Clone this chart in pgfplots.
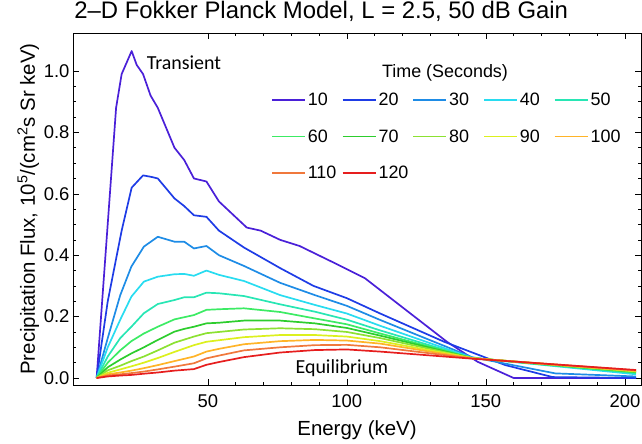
\documentclass[border=0pt]{standalone}
\usepackage{pgfplots}
\pgfplotsset{compat=1.18}
\usepackage{fontspec}
\setmainfont{Liberation Sans}
\newfontfamily\calibri{Carlito}
\usetikzlibrary{calc}
\definecolor{c10}{RGB}{74,32,216}
\definecolor{c20}{RGB}{30,60,230}
\definecolor{c30}{RGB}{30,140,230}
\definecolor{c40}{RGB}{40,220,240}
\definecolor{c50}{RGB}{40,230,180}
\definecolor{c60}{RGB}{60,235,100}
\definecolor{c70}{RGB}{45,205,45}
\definecolor{c80}{RGB}{140,225,50}
\definecolor{c90}{RGB}{220,240,30}
\definecolor{c100}{RGB}{255,180,40}
\definecolor{c110}{RGB}{240,120,60}
\definecolor{c120}{RGB}{230,30,30}
\begin{document}
\begin{tikzpicture}
\begin{axis}[
  scale only axis, width=568bp, height=352bp,
  xmin=1.5, xmax=205.8, ymin=-0.0228, ymax=1.1238,
  xtick={50,100,150,200}, minor x tick num=4,
  ytick={0,0.2,0.4,0.6,0.8,1.0}, minor y tick num=3,
  major tick length=6bp, minor tick length=3bp,
  tick style={black, line width=0.6bp},
  axis line style={black, line width=0.8bp},
  /pgf/number format/assume math mode=true,
  yticklabel style={/pgf/number format/.cd, fixed, fixed zerofill, precision=1},
  ticklabel style={font=\fontsize{18.5}{20}\selectfont},
  xticklabel style={yshift=-6bp},
  label style={font=\fontsize{20.5}{22}\selectfont},
  xlabel={Energy (keV)},
  ylabel={Precipitation Flux, 10\textsuperscript{5}/(cm\textsuperscript{2}s Sr keV)},
  xlabel style={yshift=-6bp},
  ylabel style={yshift=-2bp},
  title={2\textendash D Fokker Planck Model, L = 2.5, 50 dB Gain},
  title style={font=\fontsize{24}{26}\selectfont, at={(0.437,1)}, anchor=south, yshift=2bp},
  every axis plot/.append style={line width=1.7bp, line join=round},
  legend columns=5,
  legend cell align=left,
  legend image code/.code={\draw[#1] (0bp,0bp) -- (23bp,0bp); \path (23bp,0bp) -- (33bp,0bp);},
  legend style={draw=none, fill=none, inner xsep=0pt, inner ysep=0pt,
    font=\fontsize{18}{20}\selectfont,
    at={(axis cs:72.7,0.936)}, anchor=north west,
    row sep=18.7bp,
    /tikz/every even column/.append style={column sep=2bp}},
]
\addplot[c10] coordinates {(10,0) (17,0.88) (19,0.99) (22.6,1.065) (24.4,1.02) (26.7,0.99) (29.4,0.92) (32,0.88) (38,0.75) (41.5,0.71) (45,0.65) (49.5,0.64) (54,0.575) (64,0.49) (69,0.48) (76,0.45) (83,0.43) (95,0.377) (106.5,0.325) (136,0.118) (147,0.053) (160,0) (204,0)};
\addlegendentry{\makebox[30bp][l]{10}}
\addplot[c20] coordinates {(10,0) (14,0.25) (19,0.48) (22.6,0.62) (26.7,0.66) (29.7,0.655) (32,0.65) (38,0.585) (41.5,0.56) (45,0.53) (49.5,0.525) (54,0.48) (63,0.425) (76,0.358) (88,0.30) (100,0.26) (112,0.21) (135,0.118) (157,0.042) (174,0.003) (204,0)};
\addlegendentry{\makebox[30bp][l]{20}}
\addplot[c30] coordinates {(10,0) (14,0.13) (18.5,0.27) (22.5,0.363) (27,0.428) (32,0.46) (38,0.444) (41.5,0.444) (45,0.422) (49.5,0.43) (54,0.40) (63,0.365) (76,0.31) (88.5,0.27) (100,0.235) (112,0.189) (145,0.068) (175,0.015) (204,0.005)};
\addlegendentry{\makebox[30bp][l]{30}}
\addplot[c40] coordinates {(10,0) (14,0.1) (18.5,0.19) (22.5,0.265) (27,0.314) (32,0.33) (38,0.338) (41.5,0.339) (45,0.333) (49.5,0.35) (54,0.336) (63,0.316) (76,0.27) (88.5,0.238) (100,0.21) (112,0.17) (145,0.066) (204,0.012)};
\addlegendentry{\makebox[30bp][l]{40}}
\addplot[c50] coordinates {(10,0) (14,0.07) (18.5,0.13) (22.5,0.167) (27,0.211) (32,0.241) (38,0.254) (41.5,0.263) (45,0.263) (49.5,0.278) (54,0.276) (63,0.267) (76,0.24) (88.5,0.216) (100,0.19) (112,0.155) (145,0.065) (204,0.016)};
\addlegendentry{\makebox[30bp][l]{50}}
\addplot[c60] coordinates {(10,0) (14,0.05) (18.5,0.09) (22.5,0.12) (27,0.145) (32,0.167) (38,0.191) (41.5,0.198) (45,0.205) (49.5,0.222) (54,0.224) (63,0.227) (76,0.215) (88.5,0.194) (100,0.175) (112,0.145) (145,0.065) (204,0.018)};
\addlegendentry{\makebox[30bp][l]{60}}
\addplot[c70] coordinates {(10,0) (14,0.035) (18.5,0.06) (22.5,0.08) (27,0.1) (32,0.124) (38,0.151) (41.5,0.16) (45,0.167) (49.5,0.178) (54,0.18) (63,0.187) (76,0.187) (88.5,0.178) (100,0.163) (112,0.138) (145,0.065) (204,0.02)};
\addlegendentry{\makebox[30bp][l]{70}}
\addplot[c80] coordinates {(10,0) (14,0.025) (18.5,0.04) (22.5,0.055) (27,0.07) (32,0.09) (38,0.115) (45,0.135) (49.5,0.146) (54,0.15) (63,0.158) (76,0.162) (88.5,0.159) (100,0.15) (112,0.13) (145,0.065) (204,0.021)};
\addlegendentry{\makebox[30bp][l]{80}}
\addplot[c90] coordinates {(10,0) (14,0.017) (18.5,0.028) (22.5,0.038) (27,0.05) (32,0.065) (38,0.085) (45,0.107) (49.5,0.118) (54,0.123) (63,0.133) (76,0.14) (88.5,0.14) (100,0.135) (112,0.12) (145,0.065) (204,0.022)};
\addlegendentry{\makebox[30bp][l]{90}}
\addplot[c100] coordinates {(10,0) (14,0.012) (18.5,0.018) (22.5,0.024) (27,0.032) (32,0.042) (38,0.055) (45,0.07) (49.5,0.086) (54,0.095) (63,0.11) (76,0.12) (88.5,0.124) (100,0.122) (112,0.112) (145,0.064) (204,0.023)};
\addlegendentry{\makebox[30bp][l]{100}}
\addplot[c110] coordinates {(10,0) (14,0.008) (18.5,0.012) (22.5,0.016) (27,0.021) (32,0.028) (38,0.037) (45,0.048) (49.5,0.064) (54,0.073) (63,0.09) (76,0.1) (88.5,0.107) (100,0.108) (112,0.1) (145,0.064) (204,0.025)};
\addlegendentry{\makebox[30bp][l]{110}}
\addplot[c120] coordinates {(10,0) (14,0.005) (18.5,0.008) (22.5,0.01) (27,0.014) (32,0.018) (38,0.024) (45,0.029) (49.5,0.043) (54,0.052) (63,0.068) (76,0.083) (88.5,0.091) (100,0.093) (112,0.086) (145,0.063) (204,0.026)};
\addlegendentry{\makebox[30bp][l]{120}}
\node[font=\calibri\fontsize{20}{22}\selectfont] at (axis cs:41.4,1.026) {Transient};
\node[font=\calibri\fontsize{20}{22}\selectfont] at (axis cs:98.2,0.033) {Equilibrium};
\node[font=\fontsize{18}{20}\selectfont] at (axis cs:135.3,0.993) {Time (Seconds)};
\end{axis}
\pgfresetboundingbox
\path ($(current axis.south west)+(-73bp,-59bp)$) rectangle ($(current axis.north east)+(1bp,33bp)$);
\end{tikzpicture}
\end{document}
